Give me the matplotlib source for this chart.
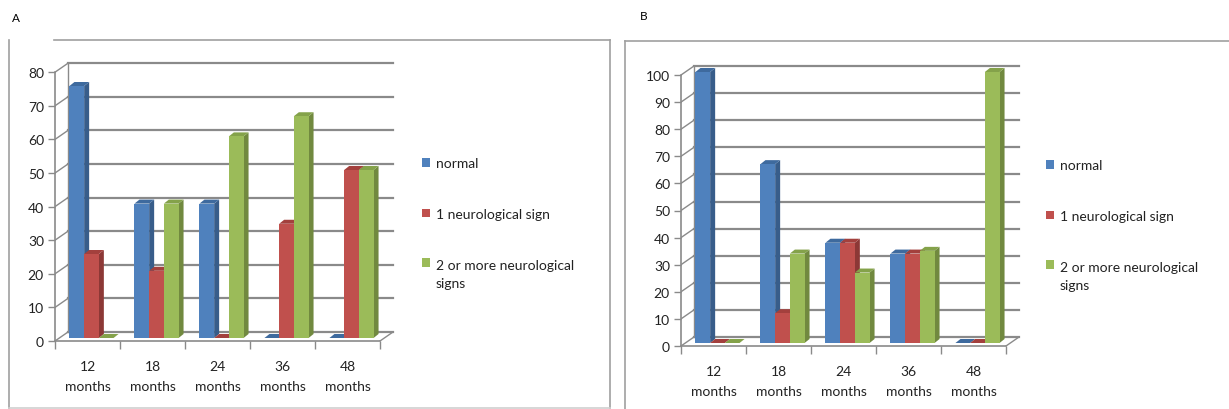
import matplotlib.pyplot as plt
from matplotlib.patches import Polygon, Patch, Rectangle
from matplotlib.lines import Line2D
from matplotlib.legend_handler import HandlerPatch

plt.rcParams['font.family'] = ['Lato', 'DejaVu Sans']

categories = ["12\nmonths", "18\nmonths", "24\nmonths", "36\nmonths", "48\nmonths"]
series = ["normal", "1 neurological sign", "2 or more neurological\nsigns"]

# panel A
a_normal = [75, 40, 40, 0, 0]
a_one = [25, 20, 0, 34, 50]
a_two = [0, 40, 60, 66, 50]

# panel B
b_normal = [100, 66, 37, 33, 0]
b_one = [0, 11, 37, 33, 0]
b_two = [0, 33, 26, 34, 100]

front = ["#4F81BD", "#C0504D", "#9BBB59"]
side = ["#385D8A", "#8C3836", "#71893F"]
top = ["#3E6A9E", "#A3403D", "#84A24A"]

W, H = 1229, 410
fig = plt.figure(figsize=(W / 100, H / 100), dpi=100)

GRID = "#8a8a8a"
PX_CAT = 65.0
FS = 10


def panel(x0, y0, px_per, ymax, step, data):
    wall_dx, wall_dy = 13, 9
    bar_ox, bar_oy = 4, 3
    bar_dx, bar_dy = 5, 4
    n = len(categories)
    xlim = (-0.5, n - 0.5 + (wall_dx + 4) / PX_CAT)
    ylim_top = ymax + (wall_dy + 3) / px_per
    ax = fig.add_axes([x0 / W, (H - y0) / H,
                       (xlim[1] - xlim[0]) * PX_CAT / W, ylim_top * px_per / H])
    ax.set_xlim(*xlim)
    ax.set_ylim(0, ylim_top)
    ax.patch.set_alpha(0)

    wdx = wall_dx / PX_CAT
    wdy = wall_dy / px_per
    # back wall gridlines and left wall diagonals
    for v in range(0, ymax + 1, step):
        ax.plot([-0.5 + wdx, n - 0.5 + wdx], [v + wdy, v + wdy], color=GRID, lw=1.6, zorder=1)
        ax.plot([-0.5, -0.5 + wdx], [v, v + wdy], color=GRID, lw=1.0, zorder=1)
    ax.plot([-0.5 + wdx, -0.5 + wdx], [wdy, ymax + wdy], color=GRID, lw=1.0, zorder=1)
    ax.plot([n - 0.5, n - 0.5 + wdx], [0, wdy], color=GRID, lw=1.0, zorder=1)

    w = 14.7 / PX_CAT
    ox, oy = bar_ox / PX_CAT, bar_oy / px_per
    sdx, sdy = bar_dx / PX_CAT, bar_dy / px_per
    for i in range(n):
        for j, vals in enumerate(data):
            h = vals[i]
            xl = i + (j - 1.5) * w + ox
            xr = xl + w
            yb, yt = oy, oy + h
            ax.add_patch(Polygon([(xr, yb), (xr + sdx, yb + sdy), (xr + sdx, yt + sdy), (xr, yt)],
                                 closed=True, fc=side[j], ec='none', zorder=3))
            ax.add_patch(Polygon([(xl, yt), (xl + sdx, yt + sdy), (xr + sdx, yt + sdy), (xr, yt)],
                                 closed=True, fc=top[j], ec='none', zorder=3))
            ax.bar(xl, h, width=w, bottom=yb, align='edge', color=front[j], zorder=3)

    for s in ["top", "right"]:
        ax.spines[s].set_visible(False)
    ax.spines["left"].set_bounds(0, ymax)
    ax.spines["bottom"].set_bounds(-0.5, n - 0.5)
    for s in ["left", "bottom"]:
        ax.spines[s].set_color(GRID)
        ax.spines[s].set_linewidth(1.2)

    ax.set_yticks(range(0, ymax + 1, step))
    ax.tick_params(axis='y', length=5, width=1, color=GRID, labelsize=FS, pad=3, labelcolor="#222222")
    ax.set_xticks([i - 0.5 for i in range(n + 1)])
    ax.set_xticklabels([""] * (n + 1))
    ax.set_xticks(range(n), minor=True)
    ax.set_xticklabels(categories, minor=True, fontsize=FS, linespacing=1.75, color="#222222")
    ax.tick_params(axis='x', which='major', length=6, width=1, color=GRID)
    ax.tick_params(axis='x', which='minor', length=0, pad=14)
    return ax


panel(55, 342, 3.36, 80, 10, [a_normal, a_one, a_two])
panel(681, 347, 2.71, 100, 10, [b_normal, b_one, b_two])


def top_square(legend, orig_handle, xdescent, ydescent, width, height, fontsize):
    # marker next to the first line of a two-line label
    return Rectangle((-xdescent, -ydescent + 0.8 * fontsize), width, height)


handles = [Patch(fc=c, ec='none') for c in front]
for lx, ly in [(422, 158), (1046, 160)]:
    leg = fig.legend(handles, series, loc='upper left', bbox_to_anchor=(lx / W, 1 - ly / H),
                     frameon=False, fontsize=FS, handlelength=0.6, handleheight=0.6,
                     handletextpad=0.4, labelspacing=2.8, borderpad=0, borderaxespad=0,
                     handler_map={handles[2]: HandlerPatch(patch_func=top_square)})
    for t in leg.get_texts():
        t.set_linespacing(1.6)
        t.set_color("#222222")

fig.text(12 / W, 1 - 18 / H, "A", fontsize=8.5, va='center', ha='left')
fig.text(640 / W, 1 - 16 / H, "B", fontsize=8.5, va='center', ha='left')

frame_lines = [
    ([9, 9], [41, 409], "#a0a0a0"), ([54, 610], [41, 41], "#a0a0a0"),
    ([610, 610], [41, 409], "#a0a0a0"), ([9, 610], [409, 409], "#cfcfcf"),
    ([625, 625], [42, 410], "#a0a0a0"), ([625, 1229], [42, 42], "#a0a0a0"),
]
for xs, ys, c in frame_lines:
    fig.add_artist(Line2D([x / W for x in xs], [1 - y / H for y in ys], color=c, lw=1.2))

fig.savefig("out.png", dpi=100)
